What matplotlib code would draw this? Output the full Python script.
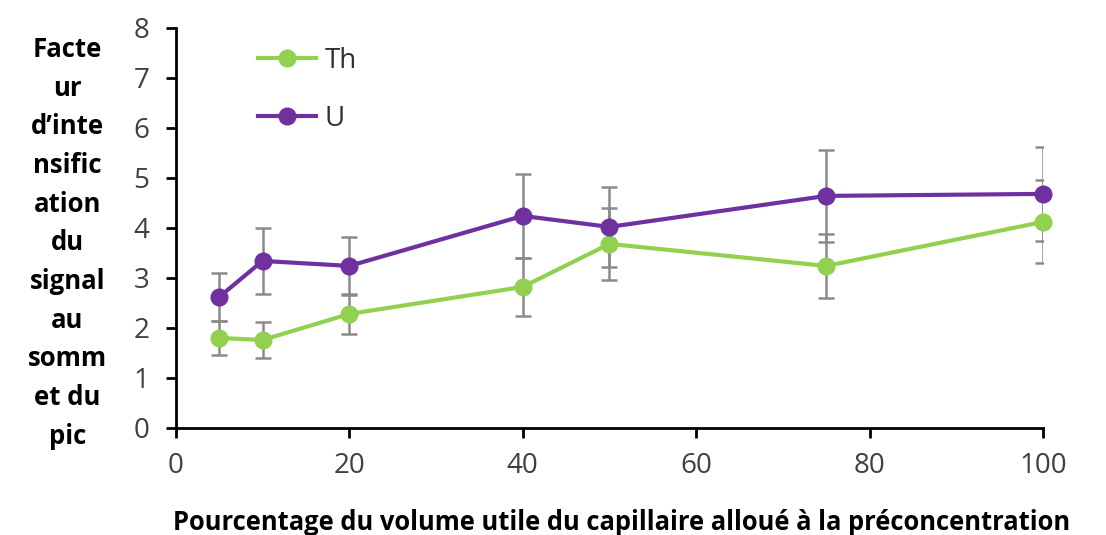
import matplotlib.pyplot as plt

plt.rcParams['font.family'] = ['Open Sans', 'DejaVu Sans']

# pourcentage du volume utile
volume = [5, 10, 20, 40, 50, 75, 100]

th = [1.80, 1.76, 2.28, 2.82, 3.68, 3.24, 4.12]
th_err = [0.34, 0.36, 0.40, 0.58, 0.72, 0.64, 0.83]

u = [2.62, 3.34, 3.24, 4.24, 4.02, 4.64, 4.68]
u_err = [0.48, 0.66, 0.58, 0.84, 0.80, 0.92, 0.94]

green = '#92d050'
purple = '#7030a0'
grey = '#8a8a8a'

fig = plt.figure(figsize=(11.06, 5.35), dpi=100)
ax = fig.add_axes([0.159, 0.2, 0.784, 0.748])

for vals, err in [(th, th_err), (u, u_err)]:
    ax.errorbar(volume, vals, yerr=err, fmt='none', ecolor=grey, elinewidth=1.8,
                capsize=5.5, capthick=1.8, zorder=2)

ax.plot(volume, th, color=green, lw=3, marker='o', ms=12, label='Th',
        clip_on=False, zorder=3)
ax.plot(volume, u, color=purple, lw=3, marker='o', ms=12, label='U',
        clip_on=False, zorder=3)

ax.set_xlim(0, 100)
ax.set_ylim(0, 8)
ax.set_xticks(range(0, 101, 20))
ax.set_yticks(range(0, 9))
for s in ['top', 'right']:
    ax.spines[s].set_visible(False)
for s in ['left', 'bottom']:
    ax.spines[s].set_linewidth(2)
ax.tick_params(axis='both', width=2, length=7, labelsize=20, labelcolor='#404040')
ax.tick_params(axis='y', pad=12)
ax.tick_params(axis='x', pad=10)

leg = ax.legend(loc='upper left', bbox_to_anchor=(0.066, 1.015), frameon=False,
                fontsize=20, handlelength=2.1, labelspacing=1.07, handletextpad=0.3)
for t in leg.get_texts():
    t.set_color('#303030')

ylab = "Facte\nur\nd\u2019inte\nnsific\nation\ndu\nsignal\nau\nsomm\net du\npic"
fig.text(0.061, 0.546, ylab, ha='center', va='center', fontsize=18.5,
         fontweight='bold', linespacing=1.555)

fig.text(0.562, 0.024, "Pourcentage du volume utile du capillaire allou\u00e9 \u00e0 la pr\u00e9concentration",
         ha='center', va='center', fontsize=18.4, fontweight='bold')

fig.savefig('out.png', dpi=100)
